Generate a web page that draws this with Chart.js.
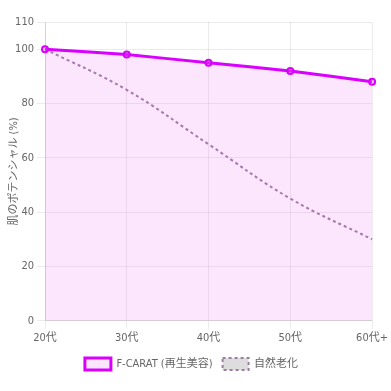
<!DOCTYPE html>
<html lang="ja">
<head>
<meta charset="UTF-8">
<title>肌のポテンシャル</title>
<script src="https://cdn.jsdelivr.net/npm/chart.js"></script>
<style>
  html, body { margin: 0; padding: 0; background: #fff; }
  .wrap { width: 391px; height: 391px; }
</style>
</head>
<body>
<div class="wrap"><canvas id="chart" width="391" height="391"></canvas></div>
<script>
const labels = ['20代', '30代', '40代', '50代', '60代+'];
const fcaratValues = [100, 98, 95, 92, 88];
const naturalValues = [100, 85, 65, 45, 30];

Chart.defaults.font.family = '"DejaVu Sans Condensed", "Noto Sans CJK JP", sans-serif';
Chart.defaults.color = '#666';

new Chart(document.getElementById('chart'), {
  type: 'line',
  data: {
    labels: labels,
    datasets: [{
      label: 'F-CARAT (再生美容)',
      data: fcaratValues,
      borderColor: 'rgb(217, 0, 255)',
      backgroundColor: 'rgba(230, 100, 245, 0.16)',
      borderWidth: 3,
      fill: true,
      tension: 0.1,
      pointRadius: 3,
      pointBorderWidth: 2,
      pointBackgroundColor: 'rgba(230, 100, 245, 0.3)'
    }, {
      label: '自然老化',
      data: naturalValues,
      borderColor: 'rgb(155, 125, 160)',
      backgroundColor: '#ddd',
      borderDash: [3, 3],
      borderWidth: 2,
      fill: false,
      tension: 0.4,
      pointRadius: 0
    }]
  },
  options: {
    responsive: false,
    animation: false,
    layout: { padding: { top: 22, right: 8, left: 0, bottom: 11 } },
    plugins: {
      legend: {
        position: 'bottom',
        labels: { font: { size: 11 }, boxWidth: 26, boxHeight: 12 }
      }
    },
    scales: {
      x: {
        grid: { color: 'rgba(0,0,0,0.08)' },
        ticks: { font: { size: 11 } }
      },
      y: {
        min: 0,
        max: 110,
        ticks: { stepSize: 20, font: { size: 11 } },
        grid: { color: 'rgba(0,0,0,0.08)' },
        title: { display: true, text: '肌のポテンシャル (%)', font: { size: 11 }, padding: { top: 8, bottom: 4 } },
        afterFit: function (scale) { scale.width = 45; }
      }
    }
  }
});
</script>
</body>
</html>
